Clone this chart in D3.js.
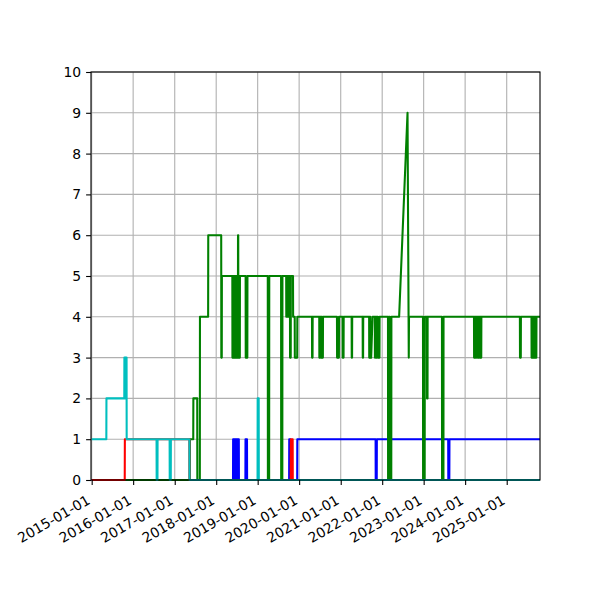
<!DOCTYPE html>
<html>
<head>
<meta charset="utf-8">
<script src="https://cdn.jsdelivr.net/npm/d3@7"></script>
<style>
  html, body { margin: 0; padding: 0; background: #fff; }
  svg { display: block; font-family: "DejaVu Sans", sans-serif; }
</style>
</head>
<body>
<div id="chart"></div>
<script>
// ---------------- data ----------------
const xTickLabels = ["2015-01-01","2016-01-01","2017-01-01","2018-01-01","2019-01-01","2020-01-01",
                     "2021-01-01","2022-01-01","2023-01-01","2024-01-01","2025-01-01"];
const yTickValues = [0,1,2,3,4,5,6,7,8,9,10];
const xDomain = ["2014-12-26", "2025-10-21"];
const yDomain = [0, 10];

const blueSeries = [
  ["2015-01-01",0],
  ["2018-05-29",0],["2018-05-30",1],["2018-06-04",1],["2018-06-05",0],["2018-06-09",0],["2018-06-10",1],
  ["2018-06-15",1],["2018-06-16",0],["2018-06-20",0],["2018-06-21",1],["2018-06-26",1],["2018-06-27",0],
  ["2018-07-01",0],["2018-07-02",1],["2018-07-07",1],["2018-07-08",0],["2018-07-12",0],["2018-07-13",1],
  ["2018-07-19",1],["2018-07-20",0],
  ["2018-09-15",0],["2018-09-16",1],["2018-09-29",1],["2018-09-30",0],
  ["2019-10-05",0],["2019-10-06",1],["2019-10-16",1],["2019-10-17",0],
  ["2019-12-15",0],["2019-12-16",1],
  ["2021-11-04",1],["2021-11-05",0],["2021-11-14",0],["2021-11-15",1],
  ["2023-08-05",1],["2023-08-06",0],["2023-08-15",0],["2023-08-16",1],
  ["2025-10-21",1]
];

const greenSeries = [
  ["2015-10-21",0],
  ["2017-05-14",0],["2017-05-15",1],
  ["2017-06-13",1],["2017-06-14",2],
  ["2017-07-18",2],["2017-07-19",0],
  ["2017-08-10",0],["2017-08-11",4],
  ["2017-10-22",4],["2017-10-23",6],
  ["2018-02-14",6],["2018-02-15",3],["2018-02-19",3],["2018-02-20",5],
  ["2018-05-23",5],["2018-05-24",3],["2018-05-29",3],["2018-05-30",5],["2018-06-03",5],["2018-06-04",3],
  ["2018-06-09",3],["2018-06-10",5],["2018-06-14",5],["2018-06-15",3],["2018-06-20",3],["2018-06-21",5],
  ["2018-06-25",5],["2018-06-26",3],["2018-07-01",3],["2018-07-02",5],["2018-07-06",5],["2018-07-07",3],
  ["2018-07-11",3],["2018-07-12",6],["2018-07-14",6],["2018-07-15",3],["2018-07-20",3],["2018-07-21",5],
  ["2018-07-24",5],["2018-07-25",3],["2018-07-28",3],["2018-07-29",5],
  ["2018-09-17",5],["2018-09-18",3],["2018-10-02",3],["2018-10-03",5],
  ["2019-03-31",5],["2019-04-01",0],["2019-04-12",0],["2019-04-13",5],
  ["2019-07-26",5],["2019-07-27",0],["2019-08-06",0],["2019-08-07",5],
  ["2019-09-09",5],["2019-09-10",4],["2019-09-14",4],["2019-09-15",5],["2019-09-20",5],["2019-09-21",4],
  ["2019-09-26",4],["2019-09-27",5],["2019-09-30",5],["2019-10-01",4],["2019-10-03",4],["2019-10-04",5],
  ["2019-10-12",5],["2019-10-13",3],["2019-10-19",3],["2019-10-20",5],
  ["2019-11-08",5],["2019-11-09",4],
  ["2019-11-23",4],["2019-11-24",3],["2019-12-15",3],["2019-12-16",4],
  ["2020-04-23",4],["2020-04-24",3],["2020-04-28",3],["2020-04-29",4],
  ["2020-06-26",4],["2020-06-27",3],["2020-07-02",3],["2020-07-03",4],["2020-07-08",4],["2020-07-09",3],
  ["2020-07-14",3],["2020-07-15",4],["2020-07-19",4],["2020-07-20",3],["2020-07-28",3],["2020-07-29",4],
  ["2020-11-29",4],["2020-11-30",3],["2020-12-16",3],["2020-12-17",4],
  ["2021-01-17",4],["2021-01-18",3],["2021-01-26",3],["2021-01-27",4],
  ["2021-04-07",4],["2021-04-08",3],["2021-04-11",3],["2021-04-12",4],
  ["2021-07-13",4],["2021-07-14",3],["2021-07-17",3],["2021-07-18",4],
  ["2021-09-08",4],["2021-09-09",3],["2021-09-14",3],["2021-09-15",4],["2021-09-18",4],["2021-09-19",3],
  ["2021-09-26",3],["2021-10-08",4],
  ["2021-10-28",4],["2021-10-29",3],["2021-11-03",3],["2021-11-04",4],["2021-11-10",4],["2021-11-11",3],
  ["2021-11-16",3],["2021-11-17",4],["2021-11-23",4],["2021-11-24",3],["2021-12-08",3],["2021-12-09",4],
  ["2022-02-21",4],["2022-02-22",0],["2022-03-01",0],["2022-03-02",4],["2022-03-08",4],["2022-03-09",0],
  ["2022-03-22",0],["2022-03-23",4],
  ["2022-05-30",4],["2022-08-12",9],["2022-08-23",3],["2022-08-25",4],
  ["2022-12-26",4],["2022-12-27",0],["2023-01-10",0],["2023-01-11",4],
  ["2023-01-30",4],["2023-01-31",2],["2023-02-04",2],["2023-02-05",4],
  ["2023-06-11",4],["2023-06-12",0],["2023-06-24",0],["2023-06-25",4],
  ["2024-03-19",4],["2024-03-20",3],["2024-03-25",3],["2024-03-26",4],["2024-03-31",4],["2024-04-01",3],
  ["2024-04-06",3],["2024-04-07",4],["2024-04-12",4],["2024-04-13",3],["2024-04-18",3],["2024-04-19",4],
  ["2024-04-24",4],["2024-04-25",3],["2024-04-30",3],["2024-05-01",4],["2024-05-06",4],["2024-05-07",3],
  ["2024-05-12",3],["2024-05-13",4],["2024-05-17",4],["2024-05-18",3],["2024-05-22",3],["2024-05-23",4],
  ["2025-04-27",4],["2025-04-28",3],["2025-05-05",3],["2025-05-06",4],
  ["2025-08-07",4],["2025-08-08",3],["2025-08-13",3],["2025-08-14",4],["2025-08-19",4],["2025-08-20",3],
  ["2025-08-25",3],["2025-08-26",4],["2025-08-31",4],["2025-09-01",3],["2025-09-06",3],["2025-09-07",4],
  ["2025-09-12",4],["2025-09-13",3],["2025-09-19",3],["2025-09-20",4],
  ["2025-10-21",4]
];

const redSeries = [
  ["2015-01-01",0],
  ["2015-10-19",0],["2015-10-20",1],
  ["2017-05-10",1],["2017-05-11",0],
  ["2019-10-19",0],["2019-10-20",1],["2019-11-05",1],["2019-11-06",0],
  ["2025-10-21",0]
];

const cyanSeries = [
  ["2015-01-01",1],
  ["2015-05-10",1],["2015-05-11",2],
  ["2015-10-15",2],["2015-10-16",3],["2015-10-22",3],["2015-10-23",2],["2015-10-26",2],["2015-10-27",3],
  ["2015-11-04",3],["2015-11-05",1],
  ["2016-07-25",1],["2016-07-26",0],["2016-08-02",0],["2016-08-03",1],
  ["2016-11-17",1],["2016-11-18",0],["2016-11-27",0],["2016-11-28",1],
  ["2017-05-10",1],["2017-05-11",0],
  ["2018-12-31",0],["2019-01-01",2],["2019-01-10",2],["2019-01-11",0],
  ["2025-10-21",0]
];

const seriesList = [
  {name: "b", data: blueSeries,  color: "#0000ff"},
  {name: "g", data: greenSeries, color: "#008000"},
  {name: "r", data: redSeries,   color: "#ff0000"},
  {name: "c", data: cyanSeries,  color: "#00bfbf"}
];

// ---------------- layout ----------------
const W = 600, H = 600;
const margin = {left: 91, right: 60, top: 72, bottom: 120};
const parse = d3.utcParse("%Y-%m-%d");

const svg = d3.select("#chart").append("svg").attr("width", W).attr("height", H);
svg.append("rect").attr("width", W).attr("height", H).attr("fill", "#fff");

const x = d3.scaleUtc().domain(xDomain.map(parse)).range([margin.left, W - margin.right]);
const y = d3.scaleLinear().domain(yDomain).range([H - margin.bottom, margin.top]);

const x0 = margin.left, x1 = W - margin.right, y0 = H - margin.bottom, y1 = margin.top;

// grid
const grid = svg.append("g").attr("stroke", "#b0b0b0").attr("stroke-width", 1.1);
xTickLabels.forEach(t => {
  const xp = x(parse(t));
  grid.append("line").attr("x1", xp).attr("x2", xp).attr("y1", y0).attr("y2", y1);
});
yTickValues.forEach(v => {
  grid.append("line").attr("x1", x0).attr("x2", x1).attr("y1", y(v)).attr("y2", y(v));
});

// lines
svg.append("defs").append("clipPath").attr("id", "clip")
  .append("rect").attr("x", x0).attr("y", y1 - 2).attr("width", x1 - x0).attr("height", y0 - y1 + 4);

const line = d3.line().x(d => x(parse(d[0]))).y(d => y(d[1]));
const lineG = svg.append("g").attr("clip-path", "url(#clip)");
seriesList.forEach(s => {
  lineG.append("path")
    .attr("d", line(s.data))
    .attr("fill", "none")
    .attr("stroke", s.color)
    .attr("stroke-width", 2.08)
    .attr("stroke-linejoin", "round");
});

// spines
svg.append("rect").attr("x", x0).attr("y", y1).attr("width", x1 - x0).attr("height", y0 - y1)
  .attr("fill", "none").attr("stroke", "#000").attr("stroke-width", 1.1);

// x axis
const xAxis = d3.axisBottom(x)
  .tickValues(xTickLabels.map(parse))
  .tickFormat(d3.utcFormat("%Y-%m-%d"))
  .tickSize(4.9).tickPadding(4.9);
const gx = svg.append("g").attr("transform", `translate(0,${y0})`).call(xAxis);
gx.select(".domain").remove();
gx.selectAll(".tick line").attr("stroke", "#000").attr("stroke-width", 1.1);
gx.selectAll(".tick text")
  .attr("font-size", "13.9px")
  .attr("font-family", "DejaVu Sans, sans-serif")
  .attr("fill", "#000")
  .attr("text-anchor", "end")
  .attr("y", 0).attr("dy", 0)
  .attr("transform", "translate(-1,23) rotate(-30)");

// y axis
const yAxis = d3.axisLeft(y).tickValues(yTickValues).tickFormat(d3.format("d")).tickSize(4.9).tickPadding(4.9);
const gy = svg.append("g").attr("transform", `translate(${x0},0)`).call(yAxis);
gy.select(".domain").remove();
gy.selectAll(".tick line").attr("stroke", "#000").attr("stroke-width", 1.1);
gy.selectAll(".tick text")
  .attr("font-size", "13.9px")
  .attr("font-family", "DejaVu Sans, sans-serif")
  .attr("fill", "#000");
</script>
</body>
</html>
